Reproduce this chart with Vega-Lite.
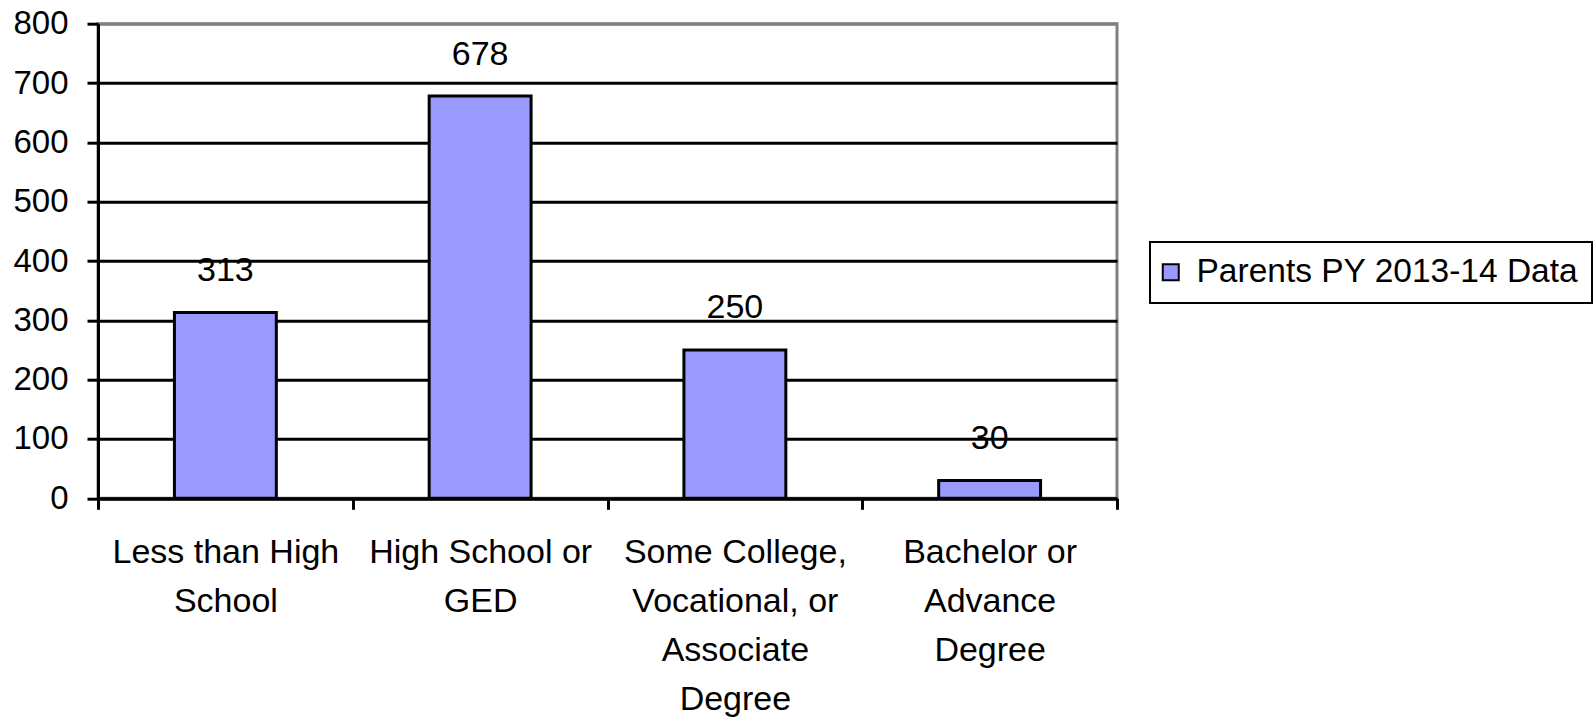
{
  "$schema": "https://vega.github.io/schema/vega-lite/v6.json",
  "width": 1019,
  "height": 474.6,
  "autosize": "none",
  "padding": {"left": 98, "top": 23.7, "right": 479, "bottom": 222.7},
  "background": "white",
  "config": {
    "font": "Liberation Sans",
    "view": {"stroke": "#808080", "strokeWidth": 3},
    "legend": {"strokeWidth": 2}
  },
  "data": {
    "values": [
      {"category": "Less than High|School", "value": 313, "series": "Parents PY 2013-14 Data"},
      {"category": "High School or|GED", "value": 678, "series": "Parents PY 2013-14 Data"},
      {"category": "Some College,|Vocational, or|Associate|Degree", "value": 250, "series": "Parents PY 2013-14 Data"},
      {"category": "Bachelor or|Advance|Degree", "value": 30, "series": "Parents PY 2013-14 Data"}
    ]
  },
  "encoding": {
    "x": {
      "field": "category",
      "type": "nominal",
      "sort": null,
      "scale": {"paddingInner": 0, "paddingOuter": 0},
      "axis": {
        "title": null,
        "labelExpr": "split(datum.label, '|')",
        "labelAngle": 0,
        "labelFontSize": 34,
        "labelLineHeight": 49,
        "labelColor": "black",
        "labelPadding": 26.5,
        "labelBaseline": "top",
        "labelLimit": 0,
        "labelOverlap": false,
        "tickBand": "extent",
        "tickSize": 11,
        "tickWidth": 3,
        "tickColor": "black",
        "domainColor": "black",
        "domainWidth": 3
      }
    },
    "y": {
      "field": "value",
      "type": "quantitative",
      "scale": {"domain": [0, 800], "nice": false},
      "axis": {
        "title": null,
        "values": [0, 100, 200, 300, 400, 500, 600, 700, 800],
        "tickSize": 11,
        "tickWidth": 3,
        "tickColor": "black",
        "domainColor": "black",
        "domainWidth": 3,
        "grid": true,
        "gridColor": {"condition": {"test": "datum.value === 800", "value": "#808080"}, "value": "black"},
        "gridWidth": 3,
        "gridOpacity": 1,
        "labelFontSize": 33,
        "labelPadding": 19,
        "labelColor": "black",
        "labelBaseline": "middle"
      }
    }
  },
  "layer": [
    {
      "mark": {"type": "bar", "stroke": "black", "strokeWidth": 3, "opacity": 1, "width": {"band": 0.4}},
      "encoding": {
        "color": {
          "field": "series",
          "type": "nominal",
          "scale": {"range": ["#9999FF"]},
          "legend": {
            "orient": "none",
            "legendX": 1052,
            "legendY": 218.3,
            "title": null,
            "strokeColor": "black",
            "padding": 13.5,
            "symbolType": "square",
            "symbolSize": 256,
            "symbolOffset": -9.5,
            "symbolStrokeColor": "black",
            "symbolStrokeWidth": 2,
            "symbolOpacity": 1,
            "labelFontSize": 33.5,
            "labelColor": "black",
            "labelOffset": 9,
            "labelLimit": 0
          }
        }
      }
    },
    {
      "mark": {"type": "text", "dy": -31.5, "baseline": "alphabetic", "align": "center", "fontSize": 34, "color": "black"},
      "encoding": {"text": {"field": "value", "type": "quantitative"}}
    }
  ]
}
